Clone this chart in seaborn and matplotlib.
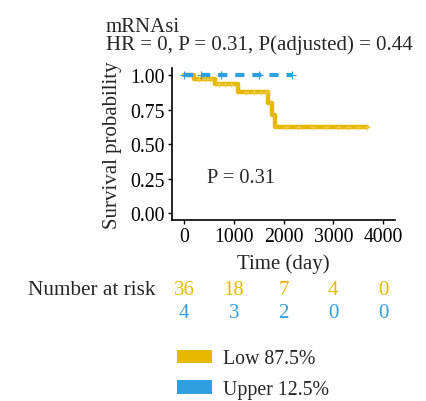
import matplotlib
matplotlib.use("Agg")
import matplotlib.pyplot as plt
import matplotlib.transforms as mtransforms
from matplotlib.patches import Patch
import seaborn as sns
import pandas as pd

# ---------------- data ----------------
low_times = [0, 210, 620, 1090, 1680, 1760, 1820, 3670]
low_surv = [1.0, 0.972, 0.935, 0.88, 0.80, 0.71, 0.625, 0.625]
low_cens_t = [300, 420, 520, 700, 820, 950, 1250, 1400, 1550, 1650, 2050, 2300, 2600, 2850, 3100, 3300, 3500, 3670]
low_cens_s = [0.972, 0.972, 0.972, 0.935, 0.935, 0.935, 0.88, 0.88, 0.88, 0.88, 0.625, 0.625, 0.625, 0.625, 0.625, 0.625, 0.625, 0.625]

up_times = [0, 2170]
up_surv = [1.0, 1.0]
up_cens_t = [0, 350, 750, 1500, 2170]
up_cens_s = [1.0, 1.0, 1.0, 1.0, 1.0]

risk_times = [0, 1000, 2000, 3000, 4000]
risk_low = [36, 18, 7, 4, 0]
risk_up = [4, 3, 2, 0, 0]

groups = ["Low 87.5%", "Upper 12.5%"]
colors = ["#E7B800", "#2E9FDF"]
x_ticks = [0, 1000, 2000, 3000, 4000]
y_ticks = [0.0, 0.25, 0.5, 0.75, 1.0]

# ---------------- figure ----------------
sns.set_theme(style="ticks")
plt.rcParams["font.family"] = ["Liberation Serif", "DejaVu Serif"]

fig = plt.figure(figsize=(4.27, 4.02), dpi=100)
ax = fig.add_axes([0.403, 0.450, 0.522, 0.378])

df_low = pd.DataFrame({"t": low_times, "s": low_surv})
df_up = pd.DataFrame({"t": up_times, "s": up_surv})
sns.lineplot(data=df_low, x="t", y="s", drawstyle="steps-post", color=colors[0],
             linewidth=3.2, ax=ax, estimator=None)
sns.lineplot(data=df_up, x="t", y="s", drawstyle="steps-post", color=colors[1],
             linewidth=3.0, ax=ax, estimator=None, linestyle=(0, (2.2, 1.9)))
sns.scatterplot(x=low_cens_t, y=low_cens_s, marker="+", color="#F0CC50", s=22,
                linewidth=0.7, ax=ax, zorder=3)
sns.scatterplot(x=up_cens_t, y=up_cens_s, marker="+", color=colors[1], s=30,
                linewidth=0.8, ax=ax, zorder=3)

ax.set_xlim(-240, 4240)
ax.set_ylim(-0.05, 1.05)
ax.set_xticks(x_ticks)
ax.set_xticklabels([str(v) for v in x_ticks])
ax.set_yticks(y_ticks)
ax.set_yticklabels([f"{v:.2f}" for v in y_ticks])
ax.tick_params(axis="both", labelsize=14.2, length=3, width=1, colors="black", pad=2)
for sp in ["left", "bottom"]:
    ax.spines[sp].set_linewidth(1.2)
    ax.spines[sp].set_color("black")
sns.despine(ax=ax)
ax.set_xlabel("Time (day)", fontsize=15, labelpad=5)
ax.set_ylabel("Survival probability", fontsize=15, labelpad=6)

ax.text(1146, 0.26, "P = 0.31", fontsize=14.7, ha="center", va="center")

fig.text(0.248, 0.932, "mRNAsi", fontsize=15, ha="left", va="center")
fig.text(0.248, 0.887, "HR = 0, P = 0.31, P(adjusted) = 0.44", fontsize=15,
         ha="left", va="center")

# number at risk
trans = mtransforms.blended_transform_factory(ax.transData, fig.transFigure)
fig.text(0.365, 0.278, "Number at risk", fontsize=15.3, ha="right", va="center")
for t, a, b in zip(risk_times, risk_low, risk_up):
    ax.text(t, 0.278, str(a), transform=trans, fontsize=15, ha="center", va="center",
            color=colors[0], clip_on=False)
    ax.text(t, 0.221, str(b), transform=trans, fontsize=15, ha="center", va="center",
            color=colors[1], clip_on=False)

handles = [Patch(facecolor=c, edgecolor="none") for c in colors]
leg = fig.legend(handles, groups, loc="upper left", bbox_to_anchor=(0.395, 0.148),
                 frameon=False, fontsize=14.3, handlelength=1.8, handleheight=0.7,
                 labelspacing=0.56, handletextpad=0.55, borderaxespad=0)

fig.savefig("out.png", dpi=100)
